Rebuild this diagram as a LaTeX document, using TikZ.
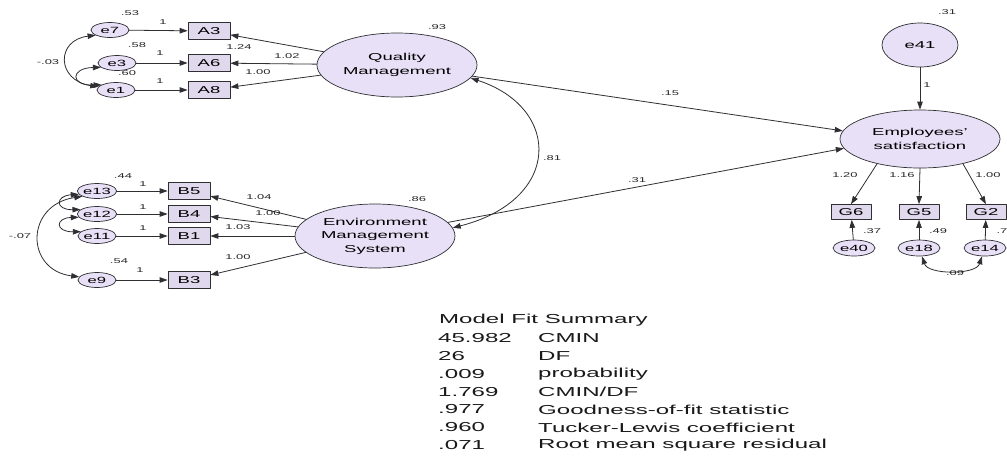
\documentclass[tikz,border=0pt]{standalone}
\usepackage{fontspec}
\setmainfont{Liberation Sans}[FakeStretch=1.85]
\usetikzlibrary{shapes.geometric,arrows.meta}
\definecolor{ebe4f7}{rgb}{0.91,0.88,0.965}
\definecolor{e2dcef}{rgb}{0.88,0.85,0.935}
\definecolor{dgdgdg}{rgb}{0.18,0.18,0.2}
\tikzset{
  latent/.style={ellipse,draw=dgdgdg,line width=0.7pt,fill=ebe4f7,inner sep=0pt,minimum width=160pt,minimum height=64pt,align=center,font=\fontsize{10}{13.5}\selectfont},
  errvar/.style={ellipse,draw=dgdgdg,line width=0.7pt,fill=ebe4f7,inner sep=0pt,minimum width=38pt,minimum height=15pt,font=\fontsize{9}{10}\selectfont},
  obsbox/.style={rectangle,draw=dgdgdg,line width=0.7pt,fill=e2dcef,inner sep=0pt,minimum width=42pt,minimum height=17pt,font=\fontsize{10}{11}\selectfont},
  arr/.style={->,draw=dgdgdg,line width=0.8pt},
  cov/.style={<->,draw=dgdgdg,line width=0.8pt},
  lab/.style={font=\fontsize{7}{8}\selectfont,inner sep=0pt,text=black!85},
  sumtxt/.style={font=\fontsize{13}{14}\selectfont,inner sep=0pt,anchor=west,text=black!90}
}
\begin{document}
\begin{tikzpicture}[x=1pt,y=-1pt,>={Triangle[length=8pt,width=5.5pt]},line cap=round,line join=round]
\useasboundingbox (0,0) rectangle (1007,456);
% quality management block
\node[errvar] (e7) at (110,30) {e7};
\node[errvar] (e3) at (117,63) {e3};
\node[errvar] (e1) at (116,90) {e1};
\node[obsbox] (A3) at (209,31) {A3};
\node[obsbox] (A6) at (209,63) {A6};
\node[obsbox] (A8) at (209,90) {A8};
\node[latent] (QM) at (397,65) {Quality\\Management};
% environment management block
\node[errvar] (e13) at (97,191) {e13};
\node[errvar] (e12) at (97,214) {e12};
\node[errvar] (e11) at (97,236) {e11};
\node[errvar] (e9) at (97,280) {e9};
\node[obsbox] (B5) at (189,191) {B5};
\node[obsbox] (B4) at (189,214) {B4};
\node[obsbox] (B1) at (189,236) {B1};
\node[obsbox] (B3) at (189,280) {B3};
\node[latent] (EMS) at (375,236) {Environment\\Management\\System};
% satisfaction block
\node[latent,minimum height=58pt] (ES) at (920,139) {Employees'\\satisfaction};
\node[errvar,minimum width=76pt,minimum height=44pt,font=\fontsize{10}{11}\selectfont] (e41) at (920,45) {e41};
\node[obsbox,minimum width=40pt,minimum height=15pt] (G6) at (851,212) {G6};
\node[obsbox,minimum width=40pt,minimum height=15pt] (G5) at (919,212) {G5};
\node[obsbox,minimum width=40pt,minimum height=15pt] (G2) at (986,212) {G2};
\node[errvar,minimum width=42pt,minimum height=16pt] (e40) at (854,248) {e40};
\node[errvar,minimum width=42pt,minimum height=16pt] (e18) at (919,248) {e18};
\node[errvar,minimum width=42pt,minimum height=16pt] (e14) at (985,248) {e14};
% paths
\foreach \e/\b in {e7/A3,e3/A6,e1/A8,e13/B5,e12/B4,e11/B1,e9/B3,e40/G6,e18/G5,e14/G2}
\draw[arr] (\e) -- (\b);
\foreach \b in {A3,A6,A8} \draw[arr] (QM) -- (\b);
\foreach \b in {B5,B4,B1,B3} \draw[arr] (EMS) -- (\b);
\draw[arr] (QM) -- (ES.174);
\draw[arr] (EMS) -- (ES.187);
\draw[arr] (e41) -- (ES);
\draw[arr] (ES.210) -- (G6.north);
\draw[arr] (ES.south) -- (G5.north);
\draw[arr] (ES.330) -- (G2.north);
% covariances
\draw[cov] (QM.-10) .. controls (562,108) and (562,200) .. (EMS.6);
\draw[cov] (e7.200) .. controls (56,40) and (56,80) .. (e1.170);
\draw[cov] (e3.195) .. controls (70,68) and (70,86) .. (e1.160);
\draw[cov] (e13.200) .. controls (25,205) and (25,270) .. (e9.170);
\draw[cov] (e13.190) .. controls (55,196) and (55,210) .. (e12.165);
\draw[cov] (e12.190) .. controls (55,218) and (55,232) .. (e11.165);
\draw[cov] (e18.-70) .. controls (928,275) and (976,275) .. (e14.250);
% estimates
\node[lab] (v7) at (130,13) {.53};
\node[lab] (v3) at (137,45) {.58};
\node[lab] (v1) at (127,73) {.60};
\node[lab] (f7) at (163,22) {1};
\node[lab] (f3) at (160,53) {1};
\node[lab] (f1) at (160,81) {1};
\node[lab] (wA3) at (239,47) {1.24};
\node[lab] (wA6) at (287,56) {1.02};
\node[lab] (wA8) at (258,72) {1.00};
\node[lab] (c71) at (48,62) {-.03};
\node[lab] (vQM) at (437,27) {.93};
\node[lab] (v13) at (123,176) {.44};
\node[lab] (f13) at (143,184) {1};
\node[lab] (f12) at (143,207) {1};
\node[lab] (f11) at (143,228) {1};
\node[lab] (f9) at (140,270) {1};
\node[lab] (wB5) at (259,197) {1.04};
\node[lab] (wB4) at (268,213) {1.00};
\node[lab] (wB1) at (238,227) {1.03};
\node[lab] (wB3) at (238,257) {1.00};
\node[lab] (v9) at (119,261) {.54};
\node[lab] (c139) at (20,236) {-.07};
\node[lab] (vEMS) at (417,199) {.86};
\node[lab] (cQE) at (552,158) {.81};
\node[lab] (bQM) at (670,93) {.15};
\node[lab] (bEMS) at (637,180) {.31};
\node[lab] (v41) at (947,12) {.31};
\node[lab] (f41) at (927,85) {1};
\node[lab] (wG6) at (845,175) {1.20};
\node[lab] (wG5) at (902,175) {1.16};
\node[lab] (wG2) at (988,175) {1.00};
\node[lab] (v40) at (872,231) {.37};
\node[lab] (v18) at (938,231) {.49};
\node[lab] (v14) at (1002,231) {.7};
\node[lab] (c1814) at (955,273) {.09};
% fit summary
\node[sumtxt] (sumhead) at (439,320) {Model Fit Summary};
\foreach \v/\t [count=\i] in {45.982/CMIN,26/DF,.009/probability,1.769/{CMIN/DF},.977/Goodness-of-fit statistic,.960/Tucker-Lewis coefficient,.071/Root mean square residual}
{
\node[sumtxt] (val\i) at (438,{320+17.9*\i}) {\v};
\node[sumtxt] (txt\i) at (538,{320+17.9*\i}) {\t};
}
\end{tikzpicture}
\end{document}
